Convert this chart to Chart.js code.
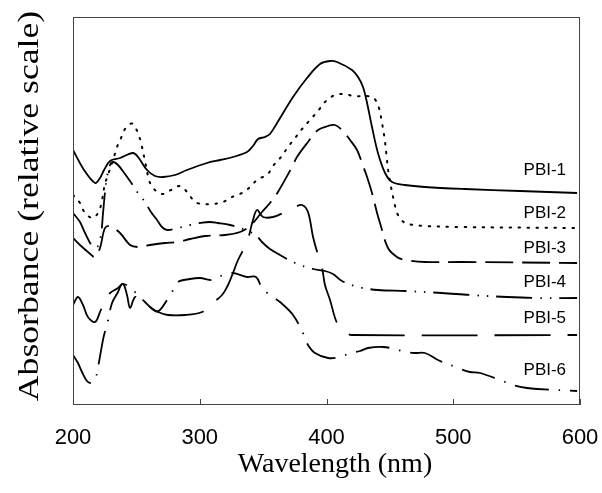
<!DOCTYPE html>
<html>
<head>
<meta charset="utf-8">
<script src="https://cdn.jsdelivr.net/npm/chart.js@4.4.1/dist/chart.umd.min.js"></script>
<style>
  html, body { margin: 0; padding: 0; background: #fff; }
</style>
</head>
<body>
<canvas id="spectra" width="602" height="493"></canvas>
<script>
// wavelength (nm) / absorbance (relative, offset stacked)
const pbi1Wl = [200, 208.7, 217.4, 221.3, 224.5, 229.2, 237.1, 247.3, 251.3, 258.4, 264.7, 271, 280.5, 289.9, 305.7, 316, 326.2, 337.3, 342, 346, 351.5, 355.4, 361, 373.6, 384.6, 394.9, 402.8, 408.3, 420.1, 424.9, 428.8, 432, 435.9, 440.6, 446.2, 451.7, 461.9, 477.7, 509.3, 552.7, 597.7];
const pbi1Abs = [2.55, 2.35, 2.22, 2.27, 2.35, 2.44, 2.47, 2.52, 2.48, 2.35, 2.29, 2.28, 2.30, 2.35, 2.42, 2.45, 2.48, 2.53, 2.59, 2.66, 2.68, 2.71, 2.82, 3.08, 3.27, 3.41, 3.44, 3.43, 3.35, 3.28, 3.18, 3.02, 2.78, 2.52, 2.32, 2.23, 2.20, 2.18, 2.16, 2.14, 2.12];

const pbi2Wl = [200, 205.5, 209.5, 215.8, 220.5, 222.9, 225.2, 227.6, 232.3, 234.7, 237.9, 241, 245, 247.3, 251.3, 253.7, 256.8, 260, 263.1, 270.2, 277.3, 284.4, 290.7, 296.3, 303.4, 310.5, 318.4, 325.5, 333.3, 339.7, 346, 353.1, 357.8, 364.1, 369.6, 375.2, 380.7, 387, 393.3, 398.8, 406.7, 414.6, 420.9, 435.9, 440.6, 443.8, 446.2, 447.7, 448.5, 450.9, 452.5, 454.1, 456.4, 461.9, 469.8, 477.7, 503.8, 597.7];
const pbi2Abs = [2.10, 2.02, 1.92, 1.87, 1.94, 2.05, 2.21, 2.30, 2.48, 2.58, 2.67, 2.76, 2.81, 2.81, 2.72, 2.62, 2.44, 2.25, 2.17, 2.11, 2.15, 2.19, 2.12, 2.03, 2.01, 2.01, 2.03, 2.08, 2.12, 2.18, 2.26, 2.30, 2.39, 2.48, 2.58, 2.67, 2.76, 2.85, 2.94, 3.03, 3.10, 3.11, 3.09, 3.08, 3.00, 2.82, 2.63, 2.45, 2.36, 2.18, 2.08, 1.99, 1.90, 1.82, 1.80, 1.79, 1.78, 1.77];

const pbi3Wl = [200, 205.5, 211.8, 217.4, 221.3, 225.2, 229.2, 237.1, 245, 251.3, 260.8, 272.6, 282.1, 292.3, 304.1, 319.9, 331.8, 339.7, 349.1, 355.4, 361.7, 372.8, 376.7, 385.4, 393.3, 401.2, 406.7, 412.2, 418.6, 424.1, 428, 432, 435.9, 439.9, 442.2, 448.5, 455.6, 461.9, 477.7, 506.9, 597.7];
const pbi3Abs = [1.67, 1.60, 1.53, 1.48, 1.57, 1.77, 1.79, 1.72, 1.60, 1.58, 1.60, 1.62, 1.63, 1.66, 1.69, 1.70, 1.73, 1.79, 1.93, 2.02, 2.13, 2.38, 2.48, 2.63, 2.75, 2.79, 2.80, 2.75, 2.65, 2.55, 2.42, 2.28, 2.12, 1.92, 1.82, 1.57, 1.48, 1.45, 1.43, 1.43, 1.42];

const pbi4Wl = [200, 205.5, 209.5, 215.8, 219.7, 222.1, 223.7, 225.2, 226.8, 229.2, 231.6, 235.5, 241, 246.6, 251.3, 256.8, 261.5, 266.3, 270.2, 274.2, 282.8, 292.3, 300.2, 308.1, 314.4, 323.9, 331.8, 339.7, 343.6, 349.1, 355.4, 363.3, 375.2, 389.4, 398.8, 405.1, 412.2, 424.9, 440.6, 461.9, 491.1, 513.2, 542.4, 566.1, 597.7];
const pbi4Abs = [1.92, 1.83, 1.72, 1.58, 1.59, 1.70, 1.92, 2.12, 2.28, 2.40, 2.43, 2.40, 2.31, 2.21, 2.12, 2.03, 1.93, 1.85, 1.78, 1.75, 1.77, 1.80, 1.82, 1.83, 1.82, 1.80, 1.77, 1.73, 1.71, 1.63, 1.56, 1.50, 1.42, 1.36, 1.34, 1.31, 1.24, 1.18, 1.15, 1.14, 1.12, 1.10, 1.08, 1.07, 1.07];

const pbi5Wl = [200, 203.9, 207.9, 211.8, 217.4, 221.3, 225.2, 229.2, 235.5, 239.5, 242.6, 245, 248.9, 252.9, 260.8, 267.1, 275, 288.4, 301.8, 308.1, 317.6, 322.3, 326.2, 330.2, 337.3, 342, 345.2, 349.9, 357.8, 367.3, 375.2, 380.7, 385.4, 389.4, 393.3, 396.5, 398.8, 402.8, 408.3, 414.6, 420.1, 597.7];
const pbi5Abs = [1.00, 1.08, 1.00, 0.88, 0.83, 0.93, 1.05, 1.12, 1.17, 1.21, 1.10, 0.97, 1.08, 1.05, 0.98, 0.93, 0.90, 0.90, 0.93, 1.00, 1.10, 1.20, 1.32, 1.45, 1.63, 1.85, 1.95, 1.88, 1.88, 1.93, 1.98, 2.00, 1.93, 1.68, 1.50, 1.37, 1.20, 1.05, 0.82, 0.73, 0.70, 0.70];

const pbi6Wl = [200, 203.9, 207.1, 211, 214.2, 217.4, 220.5, 222.9, 224.5, 226.8, 230.8, 235.5, 238.7, 243.4, 248.9, 256.8, 264.7, 268.6, 274.2, 278.1, 282.8, 292.3, 300.2, 310.5, 318.4, 326.2, 337.3, 344.4, 349.1, 355.4, 363.3, 373.6, 383, 385.4, 390.9, 401.2, 410.7, 418.6, 426.4, 432.8, 444.6, 454.1, 461.9, 469.8, 477.7, 488, 503.8, 513.2, 521.1, 536.9, 547.2, 558.2, 566.1, 597.7];
const pbi6Abs = [0.50, 0.42, 0.33, 0.24, 0.22, 0.25, 0.43, 0.60, 0.70, 0.80, 1.02, 1.13, 1.21, 1.19, 1.13, 1.03, 0.94, 0.95, 1.05, 1.13, 1.23, 1.26, 1.27, 1.25, 1.30, 1.32, 1.28, 1.28, 1.17, 1.10, 1.03, 0.90, 0.68, 0.60, 0.52, 0.47, 0.48, 0.52, 0.54, 0.57, 0.58, 0.56, 0.53, 0.52, 0.52, 0.45, 0.37, 0.33, 0.32, 0.25, 0.20, 0.17, 0.16, 0.14];

const seriesNames = ["PBI-1", "PBI-2", "PBI-3", "PBI-4", "PBI-5", "PBI-6"];
const xTicks = [200, 300, 400, 500, 600];
// where each curve's name sits (wavelength of right edge, absorbance)
const labelWl = 589;
const labelAbs = [2.35, 1.92, 1.57, 1.23, 0.87, 0.35];

const wls = [pbi1Wl, pbi2Wl, pbi3Wl, pbi4Wl, pbi5Wl, pbi6Wl];
const abss = [pbi1Abs, pbi2Abs, pbi3Abs, pbi4Abs, pbi5Abs, pbi6Abs];
const dashes = [[], [1.5, 7.5], [28, 9], [36, 8, 1.5, 8, 1.5, 8], [56, 17], [34, 10, 1.5, 10]];

function toPoints(wl, ab) {
  return wl.map((w, i) => ({ x: w, y: ab[i] }));
}

const datasets = seriesNames.map((name, i) => ({
  label: name,
  data: toPoints(wls[i], abss[i]),
  borderColor: "#000",
  borderWidth: i == 1 ? 2 : 1.8,
  borderDash: dashes[i],
  borderCapStyle: i == 1 ? "round" : "butt",
  pointRadius: 0,
  tension: 0.35,
  fill: false,
}));

const serif = "'Liberation Serif', 'Times New Roman', serif";

const frameAndLabels = {
  id: "frameAndLabels",
  afterDatasetsDraw(chart) {
    const { ctx, chartArea: a, scales } = chart;
    ctx.save();
    ctx.strokeStyle = "#444";
    ctx.lineWidth = 1;
    ctx.setLineDash([]);
    ctx.strokeRect(a.left + 0.5, a.top + 0.5, a.right - a.left - 1, a.bottom - a.top - 1);
    // inward tick marks on the wavelength axis
    xTicks.forEach((t) => {
      const px = Math.round(scales.x.getPixelForValue(t)) + 0.5;
      ctx.beginPath();
      ctx.moveTo(px, a.bottom);
      ctx.lineTo(px, a.bottom - 6);
      ctx.stroke();
    });
    ctx.fillStyle = "#000";
    ctx.font = "17px 'Liberation Sans', Arial, sans-serif";
    ctx.textAlign = "right";
    ctx.textBaseline = "middle";
    seriesNames.forEach((name, i) => {
      ctx.fillText(name, scales.x.getPixelForValue(labelWl), scales.y.getPixelForValue(labelAbs[i]));
    });

    // axis titles (the original y title is a bit stretched along its length)
    ctx.textAlign = "center";
    ctx.font = "28px " + serif;
    ctx.fillText("Wavelength (nm)", 335, 465);
    ctx.translate(30, 206);
    ctx.rotate(-Math.PI / 2);
    ctx.scale(1.19, 1);
    ctx.font = "30px " + serif;
    ctx.fillText("Absorbance (relative scale)", 0, 0);
    ctx.restore();
  },
};

new Chart(document.getElementById("spectra"), {
  type: "line",
  data: { datasets: datasets },
  options: {
    responsive: false,
    animation: false,
    layout: { padding: { top: 17, right: 22, left: 0, bottom: 0 } },
    plugins: { legend: { display: false }, tooltip: { enabled: false } },
    scales: {
      x: {
        type: "linear",
        min: 200,
        max: 600,
        afterFit: (s) => { s.height = 88; s.paddingLeft = 0; s.paddingRight = 0; },
        afterBuildTicks: (s) => { s.ticks = xTicks.map((v) => ({ value: v })); },
        grid: { display: false },
        border: { display: false },
        ticks: {
          color: "#000",
          padding: 12,
          font: { family: "'Liberation Sans', Arial", size: 22 },
        },
      },
      y: {
        min: 0,
        max: 3.88,
        afterFit: (s) => { s.width = 73; s.paddingTop = 0; s.paddingBottom = 0; },
        grid: { display: false },
        border: { display: false },
        ticks: { display: false },
      },
    },
  },
  plugins: [frameAndLabels],
});
</script>
</body>
</html>
